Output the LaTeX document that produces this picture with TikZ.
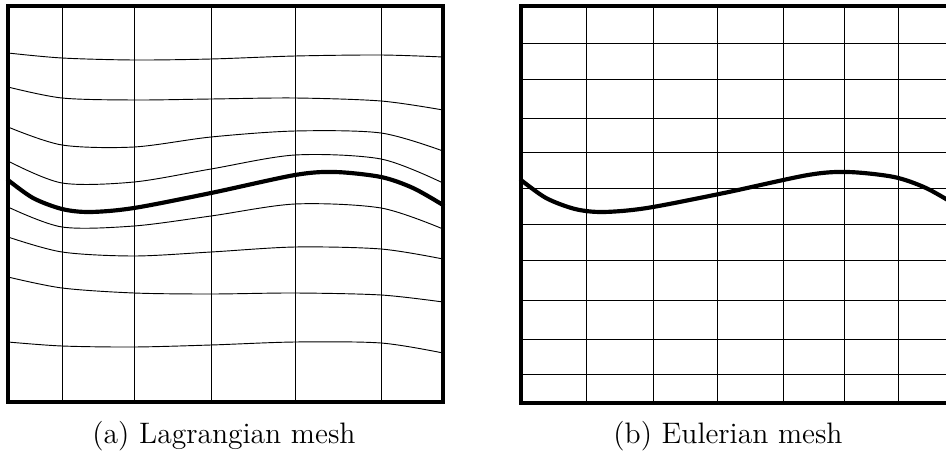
\documentclass[tikz,border=0pt]{standalone}
\usepackage{tikz}

\begin{document}
\begin{tikzpicture}[
    x=0.0152cm, y=-0.0152cm,
    frame/.style={line width=1.3pt},
    meshline/.style={line width=0.4pt},
    iface/.style={line width=1.8pt, line cap=round},
    caption/.style={font=\fontsize{12.8}{15}\selectfont, anchor=base},
]
\useasboundingbox (0,0) rectangle (946,455);
\clip (0,0) rectangle (946,455);
% (a) Lagrangian mesh
\foreach \x in {62,134,211,295,381} {
  \draw[meshline] (\x,6) -- (\x,402);
}
\foreach \a/\b/\c/\d/\e/\f/\g in {53/58/60/59/56/55/57, 87/98/100/99/98/101/110,
    127/145/147/137/131/133/151, 161/183/182/169/155/159/183,
    207/227/226/216/204/208/229, 237/252/256/252/247/249/259,
    277/288/293/294/293/295/302, 342/346/347/345/342/343/353} {
  \draw[meshline] plot[smooth] coordinates {(8,\a) (62,\b) (134,\c) (211,\d) (295,\e) (381,\f) (443,\g)};
}
% (b) Eulerian mesh
\foreach \x in {586,653,717,783,844,898} {
  \draw[meshline] (\x,6) -- (\x,403);
}
\foreach \y in {43,79,118,152,188,224,260,300,339,374} {
  \draw[meshline] (521,\y) -- (960,\y);
}
% interface
\foreach \dx in {0,513} {
  \draw[iface, xshift=\dx*0.0152cm] plot[smooth] coordinates {(8,180) (33,198) (62,209) (90,212) (134,208)
    (211,193) (295,175) (335,172) (381,177) (413,188) (443,205)};
}
\draw[frame] (8,6) rectangle (443,402);
\draw[frame] (521,6) rectangle (960,403);
\node[caption] (capa) at (224,443) {(a) Lagrangian mesh};
\node[caption] (capb) at (728,443) {(b) Eulerian mesh};
\end{tikzpicture}
\end{document}
